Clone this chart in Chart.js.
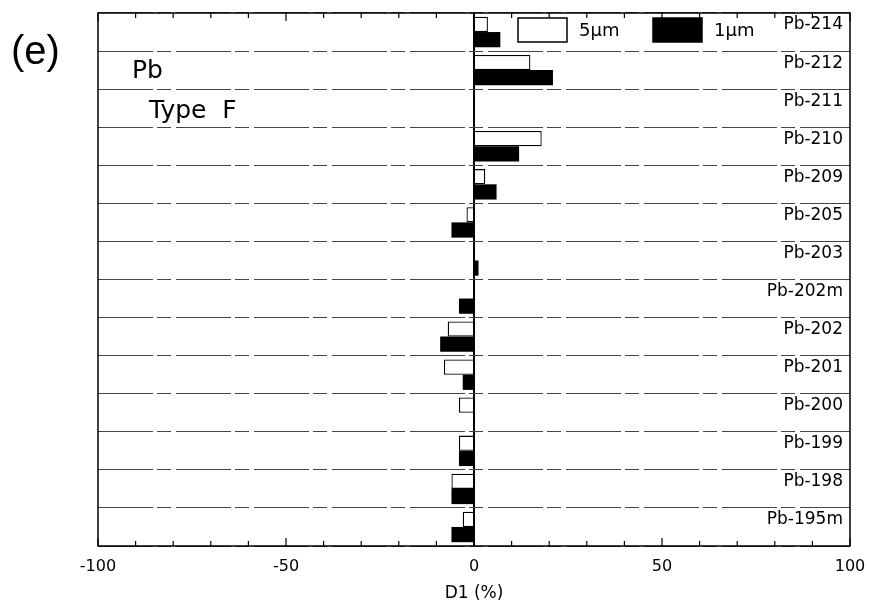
<!DOCTYPE html>
<html>
<head>
<meta charset="utf-8">
<script src="https://cdn.jsdelivr.net/npm/chart.js@4.4.0/dist/chart.umd.min.js"></script>
<style>
  html, body { margin: 0; padding: 0; background: #fff; }
  #wrap { width: 869px; height: 613px; }
</style>
</head>
<body>
<div id="wrap"><canvas id="chart" width="869" height="613"></canvas></div>
<script>
const isotopes = ['Pb-214', 'Pb-212', 'Pb-211', 'Pb-210', 'Pb-209', 'Pb-205', 'Pb-203',
  'Pb-202m', 'Pb-202', 'Pb-201', 'Pb-200', 'Pb-199', 'Pb-198', 'Pb-195m'];
const d1_5um = [3.7, 15, 0, 18, 3, -2, 0, 0, -7, -8, -4, -4, -6, -3];
const d1_1um = [7, 21, 0, 12, 6, -6, 1.2, -4, -9, -3, 0, -4, -6, -6];
const xTicks = [-100, -50, 0, 50, 100];

const font = "'DejaVu Sans', sans-serif";
const fontB = "'Liberation Sans', Arial, sans-serif";

// frame, inward ticks, legend and the text notes
const decorations = {
  id: 'decorations',
  afterDraw(chart) {
    const { ctx, chartArea: a, scales: { x } } = chart;
    ctx.save();
    ctx.strokeStyle = '#000';
    ctx.lineWidth = 1.5;
    ctx.strokeRect(a.left, a.top, a.right - a.left, a.bottom - a.top);

    ctx.lineWidth = 1.2;
    x.ticks.forEach(t => {
      const px = x.getPixelForValue(t.value);
      const len = t.value % 50 === 0 ? 8 : 5;
      ctx.beginPath();
      ctx.moveTo(px, a.top); ctx.lineTo(px, a.top + len);
      ctx.moveTo(px, a.bottom); ctx.lineTo(px, a.bottom - len);
      ctx.stroke();
    });

    // legend
    const ds = chart.data.datasets;
    const items = [[a.left + 420, ds[0]], [a.left + 555, ds[1]]];
    ctx.font = '18px ' + font;
    ctx.textBaseline = 'middle';
    items.forEach(([lx, d]) => {
      ctx.fillStyle = d.backgroundColor;
      ctx.fillRect(lx, a.top + 5, 49, 24);
      ctx.lineWidth = 1.5;
      ctx.strokeRect(lx, a.top + 5, 49, 24);
      ctx.fillStyle = '#000';
      ctx.fillText(d.label, lx + 61, a.top + 18);
    });

    ctx.font = '25px ' + font;
    ctx.textBaseline = 'alphabetic';
    ctx.fillText('Pb', 132, 78);
    ctx.fillText('Type  F', 149, 118);
    ctx.font = '40px ' + fontB;
    ctx.fillText('(e)', 11, 64);
    ctx.restore();
  }
};

new Chart(document.getElementById('chart'), {
  type: 'bar',
  data: {
    labels: isotopes,
    datasets: [
      { label: '5µm', data: d1_5um, backgroundColor: '#fff', borderColor: '#000', borderWidth: 1.3 },
      { label: '1µm', data: d1_1um, backgroundColor: '#000', borderColor: '#000', borderWidth: 0 }
    ]
  },
  options: {
    indexAxis: 'y',
    responsive: false,
    animation: false,
    layout: { padding: { left: 98, right: 19, top: 13, bottom: 0 } },
    datasets: { bar: { categoryPercentage: 0.8, barPercentage: 1 } },
    plugins: { legend: { display: false }, tooltip: { enabled: false } },
    scales: {
      x: {
        min: -100, max: 100,
        afterBuildTicks: s => { s.ticks = []; for (let v = -100; v <= 100; v += 10) s.ticks.push({ value: v }); },
        afterFit: s => { s.height = 67; s.paddingLeft = 0; s.paddingRight = 0; },
        ticks: {
          autoSkip: false, maxRotation: 0, padding: 11, color: '#000',
          font: { family: font, size: 16 },
          callback: v => xTicks.includes(v) ? String(v) : ''
        },
        grid: {
          drawTicks: false,
          color: c => c.tick && c.tick.value === 0 ? '#000' : 'rgba(0,0,0,0)',
          lineWidth: c => c.tick && c.tick.value === 0 ? 2 : 0
        },
        border: { display: false },
        title: {
          display: true, text: 'D1 (%)', color: '#000',
          font: { family: font, size: 17 },
          padding: { top: 4, bottom: 9 }
        }
      },
      y: {
        position: 'right',
        afterFit: s => { s.width = 0; },
        ticks: {
          mirror: true, padding: -7, labelOffset: -7, color: '#000',
          font: { family: font, size: 17 }
        },
        grid: { drawTicks: false, color: '#444', lineWidth: 1 },
        border: { display: false, dash: [55, 4, 14, 5] }
      }
    }
  },
  plugins: [decorations]
});
</script>
</body>
</html>
